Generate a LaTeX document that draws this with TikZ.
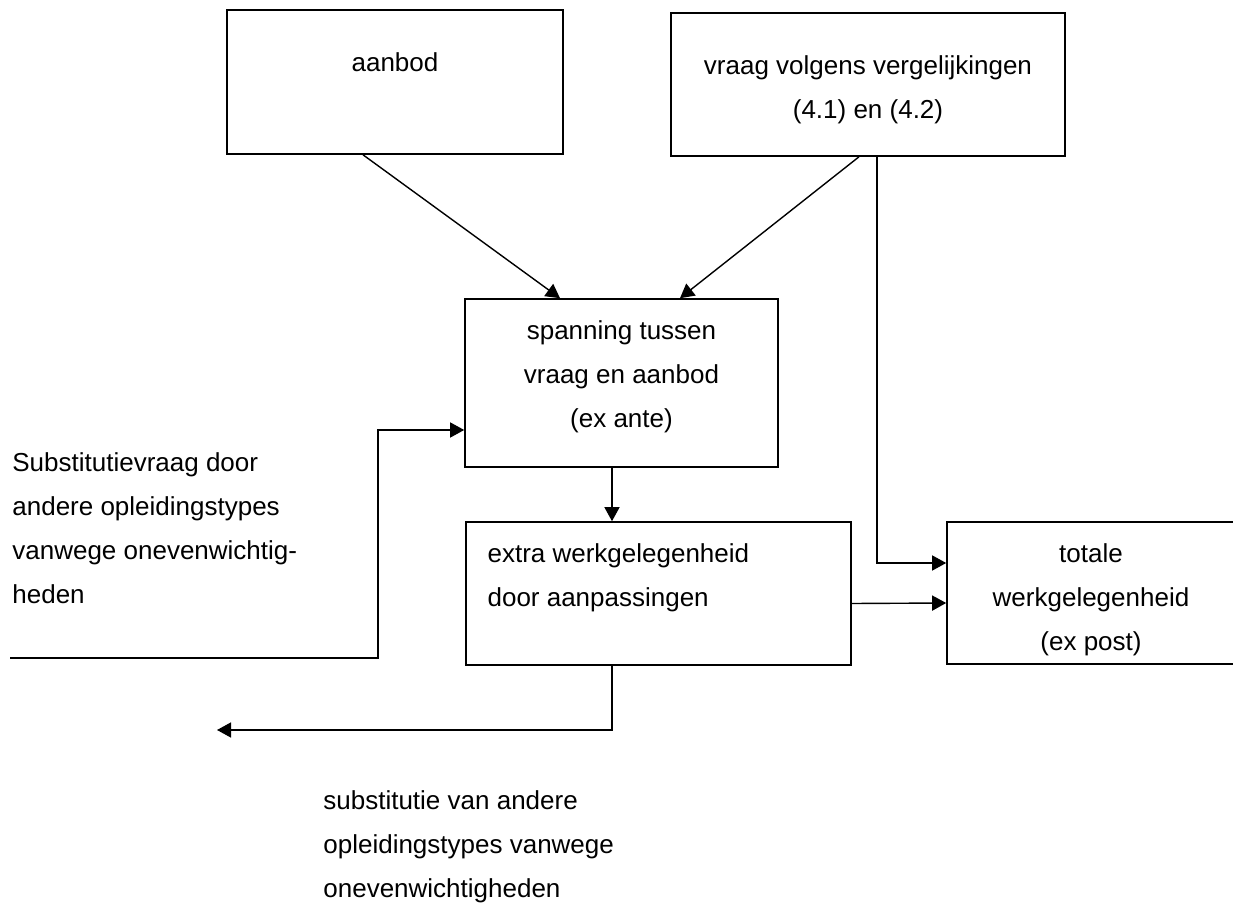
\documentclass[tikz,border=0pt]{standalone}
\usepackage{fontspec}
\setmainfont{Liberation Sans}
\usetikzlibrary{arrows.meta, positioning, fit, calc}

\begin{document}
\begin{tikzpicture}[
    x=0.5pt, y=-0.5pt,
    font=\fontsize{13pt}{22pt}\selectfont,
    box/.style={draw, line width=0.8pt, inner sep=0pt},
    txt/.style={inner sep=0pt, align=center},
    arr/.style={-{Triangle[length=7pt, width=7.5pt]}, line width=0.7pt},
]
    \useasboundingbox (0,0) rectangle (1233,904);

    %==================== TOP ROW ====================
    \node[box, fit={(227,10) (563,154)}] (aanbod) {};
    \node[txt, below=21.5pt of aanbod.north] (aanbodtxt) {aanbod};

    \node[box, fit={(671,13) (1065,156)}] (vraag) {};
    \node[txt, below=21.5pt of vraag.north] (vraagtxt)
        {vraag volgens vergelijkingen\\(4.1) en (4.2)};

    %==================== TENSION ====================
    \node[box, fit={(465,299) (778,467)}] (spanning) {};
    \node[txt, below=11.2pt of spanning.north] (spanningtxt)
        {spanning tussen\\vraag en aanbod\\(ex ante)};

    \draw[arr] ([xshift=-16pt]aanbod.south) -- ([xshift=-30.75pt]spanning.north);
    \draw[arr] ([xshift=-4.5pt]vraag.south) -- ([xshift=29.25pt]spanning.north);

    %==================== EMPLOYMENT ====================
    \node[box, fit={(466,522) (851,665)}] (extra) {};
    \node[txt, align=left, anchor=north west] (extratxt)
        at ([xshift=11pt, yshift=-10.8pt]extra.north west)
        {extra werkgelegenheid\\door aanpassingen};

    \node[box, fit={(947,522) (1235,664)}] (totale) {};
    \node[txt, below=10.8pt of totale.north] (totaletxt)
        {totale\\werkgelegenheid\\(ex post)};

    \draw[arr] ([xshift=-4.75pt]spanning.south) -- ([xshift=-4.75pt]spanning.south |- extra.north);
    \draw[arr] ([xshift=4.5pt]vraag.south) |- ([yshift=15pt]totale.west);
    \draw[arr] ([yshift=-5pt]extra.east) -- ([yshift=-5pt]totale.west);

    %==================== SUBSTITUTION ====================
    \node[txt, align=left, anchor=north west] (subvraag) at (12,452)
        {Substitutievraag door\\andere opleidingstypes\\vanwege onevenwichtig-\\heden};
    \coordinate (subin) at (10,658);
    \coordinate (subbend) at (378,430);
    \draw[arr] (subin) -| (subbend) -- ([yshift=-23.5pt]spanning.west);

    \coordinate (subout) at (217,730);
    \draw[arr] ([xshift=-23.25pt]extra.south) |- (subout);
    \node[txt, align=left, anchor=north west] (subaanbod) at (323,790)
        {substitutie van andere\\opleidingstypes vanwege\\onevenwichtigheden};

\end{tikzpicture}
\end{document}
